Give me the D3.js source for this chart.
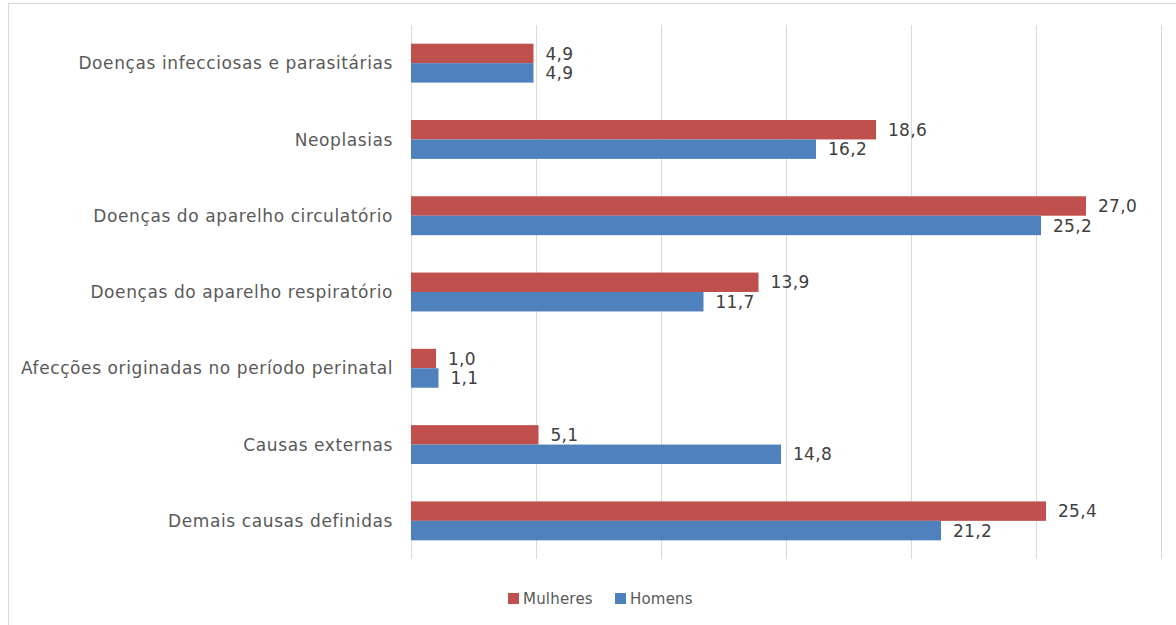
<!DOCTYPE html>
<html><head><meta charset="utf-8">
<script src="https://cdn.jsdelivr.net/npm/d3@7"></script>
<style>body{margin:0;background:#fff}svg{display:block}</style>
</head><body>
<svg id="chart" width="1176" height="625"></svg>
<script>
const categories = ["Doenças infecciosas e parasitárias","Neoplasias","Doenças do aparelho circulatório","Doenças do aparelho respiratório","Afecções originadas no período perinatal","Causas externas","Demais causas definidas"];
const mulheres = [4.9, 18.6, 27.0, 13.9, 1.0, 5.1, 25.4];
const homens = [4.9, 16.2, 25.2, 11.7, 1.1, 14.8, 21.2];
const seriesNames = ["Mulheres","Homens"];
const seriesColors = ["#C0504D","#4F81BD"];
const xTicks = [0,5,10,15,20,25,30];

const svg = d3.select("#chart");
const font = "DejaVu Sans, Verdana, sans-serif";

// outer border
svg.append("rect").attr("x",8.5).attr("y",3.5).attr("width",1200).attr("height",700)
  .attr("fill","none").attr("stroke","#d9d9d9").attr("stroke-width",1);

const x = d3.scaleLinear().domain([0,30]).range([411,1161]);
const y = d3.scaleBand().domain(categories).range([25,559]).paddingInner(0.49).paddingOuter(0.245);
const ySub = d3.scaleBand().domain(seriesNames).range([0,y.bandwidth()]);

// gridlines
svg.append("g").selectAll("line").data(xTicks).join("line")
  .attr("x1",d=>Math.round(x(d))+0.5).attr("x2",d=>Math.round(x(d))+0.5)
  .attr("y1",25).attr("y2",559).attr("stroke","#d9d9d9").attr("stroke-width",1);

const series = [mulheres, homens];
series.forEach((vals,si)=>{
  const g = svg.append("g");
  g.selectAll("rect").data(vals).join("rect")
    .attr("x",x(0)).attr("y",(d,i)=>y(categories[i])+ySub(seriesNames[si]))
    .attr("width",d=>x(d)-x(0)).attr("height",ySub.bandwidth())
    .attr("fill",seriesColors[si]);
  g.selectAll("text").data(vals).join("text")
    .attr("x",d=>x(d)+12).attr("y",(d,i)=>y(categories[i])+ySub(seriesNames[si])+ySub.bandwidth()/2)
    .attr("dy","0.36em").attr("font-family",font).attr("font-size",17).attr("letter-spacing",0.3)
    .attr("fill","#404040").text(d=>d.toFixed(1).replace(".",","));
});

// category labels
svg.append("g").selectAll("text").data(categories).join("text")
  .attr("x",393).attr("y",d=>y(d)+y.bandwidth()/2).attr("dy","0.36em")
  .attr("text-anchor","end").attr("font-family",font).attr("font-size",17).attr("letter-spacing",0.6)
  .attr("fill","#595959").text(d=>d);

// legend
const legendX = [508, 615];
seriesNames.forEach((n,i)=>{
  svg.append("rect").attr("x",legendX[i]).attr("y",593).attr("width",11).attr("height",11).attr("fill",seriesColors[i]);
  svg.append("text").attr("x",legendX[i]+15).attr("y",598.5).attr("dy","0.36em")
    .attr("font-family",font).attr("font-size",15).attr("letter-spacing",0.2).attr("fill","#595959").text(n);
});
</script>
</body></html>
